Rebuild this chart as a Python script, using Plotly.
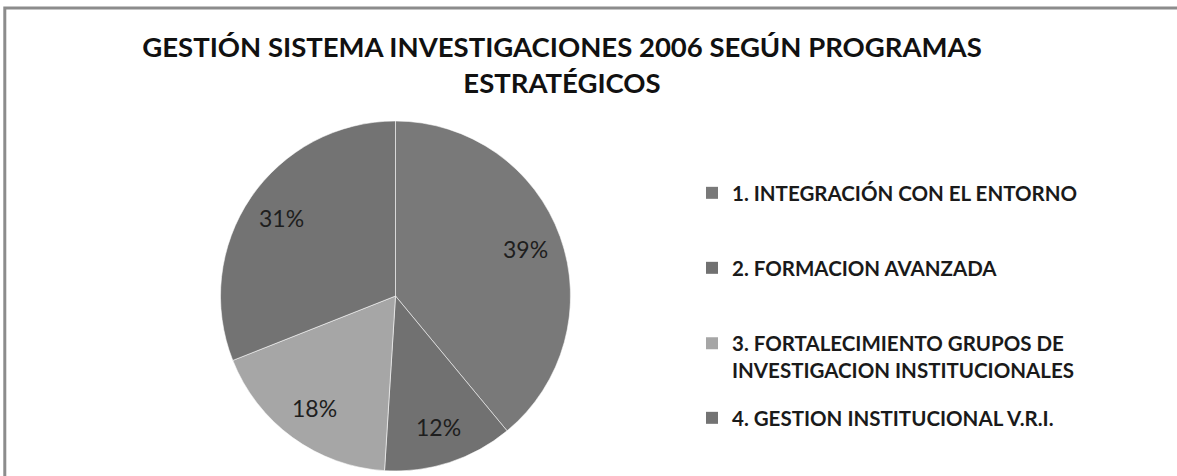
import math
import plotly.graph_objects as go

W, H = 1177, 476

title_text = "GESTIÓN SISTEMA INVESTIGACIONES 2006 SEGÚN PROGRAMAS<br>ESTRATÉGICOS"
labels = [
    "1. INTEGRACIÓN CON EL ENTORNO",
    "2. FORMACION AVANZADA",
    "3. FORTALECIMIENTO GRUPOS DE<br>INVESTIGACION INSTITUCIONALES",
    "4. GESTION INSTITUCIONAL V.R.I.",
]
values = [39, 12, 18, 31]
colors = ["#797979", "#717171", "#a6a6a6", "#737373"]

FONT = "Lato"

# pie geometry (pixels)
cx, cy, r = 395.5, 296, 175
label_r = 0.79  # data labels sit at this fraction of the radius (like Excel best fit)

fig = go.Figure()
fig.add_trace(go.Pie(
    labels=labels,
    values=values,
    sort=False,
    direction="clockwise",
    rotation=0,
    marker=dict(colors=colors, line=dict(color="rgba(255,255,255,0.55)", width=1)),
    textinfo="none",
    showlegend=False,
    hoverinfo="label+percent",
    domain=dict(x=[(cx - r) / W, (cx + r) / W], y=[(H - cy - r) / H, (H - cy + r) / H]),
))

# percentage labels placed on each slice bisector, derived from the values
total = sum(values)
annotations = []
cum = 0
for v in values:
    mid = (cum + v / 2) / total * 2 * math.pi  # clockwise from 12 o'clock
    cum += v
    px = cx + label_r * r * math.sin(mid)
    py = cy - label_r * r * math.cos(mid)
    annotations.append(dict(
        x=px / W, y=1 - py / H, xref="paper", yref="paper",
        text=f"{round(v / total * 100)}%", showarrow=False,
        xanchor="center", yanchor="middle",
        font=dict(family=FONT, size=23, color="#1e1e1e"),
    ))

# legend entries, one legend per item so they can be spaced like the original
legend_centers = [193, 268, 357, 418]
legend_names = ["legend", "legend2", "legend3", "legend4"]
for lab, col, ln in zip(labels, colors, legend_names):
    fig.add_trace(go.Scatter(
        x=[None], y=[None], mode="markers", name=lab,
        marker=dict(symbol="square", size=12, color=col),
        legend=ln, showlegend=True, hoverinfo="skip",
    ))

layout_legends = {}
for ln, yc in zip(legend_names, legend_centers):
    layout_legends[ln] = dict(
        x=(732 - 40) / W, xanchor="left",
        y=1 - yc / H, yanchor="middle",
        valign="top",
        bgcolor="rgba(0,0,0,0)",
        borderwidth=0,
        font=dict(family=FONT, size=20.5, color="#1a1a1a", weight="bold"),
        itemclick=False, itemdoubleclick=False,
    )

fig.update_layout(
    width=W, height=H,
    margin=dict(l=0, r=0, t=0, b=0),
    paper_bgcolor="white",
    plot_bgcolor="white",
    xaxis=dict(visible=False),
    yaxis=dict(visible=False),
    title=dict(
        text=title_text,
        x=562 / W, xanchor="center",
        y=1 - 57 / H, yanchor="top",
        font=dict(family=FONT, size=27.5, color="#111111", weight="bold"),
    ),
    annotations=annotations,
    shapes=[dict(
        type="rect", xref="paper", yref="paper",
        x0=4.8 / W, x1=1.02, y0=-0.05, y1=1 - 8 / H,
        line=dict(color="#8c8c8c", width=3),
        fillcolor="rgba(0,0,0,0)",
        layer="above",
    )],
    **layout_legends,
)

fig.write_html(
    "out.html",
    config={"displayModeBar": False},
    post_script="document.body.style.margin='0px';",
)
